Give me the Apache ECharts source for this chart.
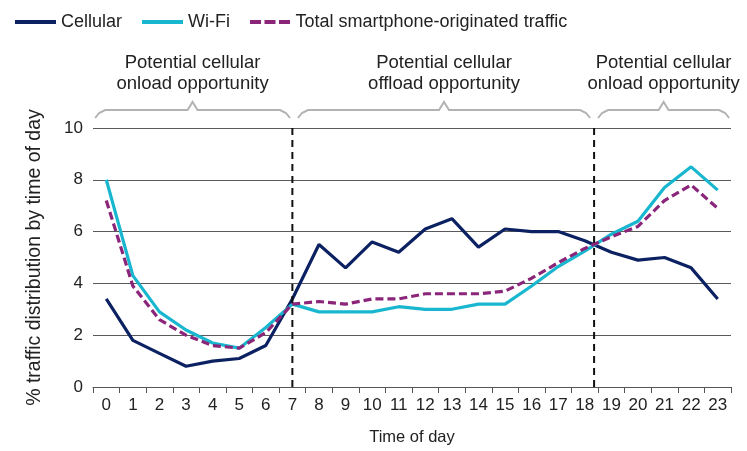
<!DOCTYPE html>
<html>
<head>
<meta charset="utf-8">
<script src="https://cdn.jsdelivr.net/npm/echarts@6/dist/echarts.min.js"></script>
<style>
  html, body { margin: 0; padding: 0; background: #fff; }
  #chart { width: 747px; height: 451px; }
</style>
</head>
<body>
<div id="chart"></div>
<script>
const hours = ['0','1','2','3','4','5','6','7','8','9','10','11','12','13','14','15','16','17','18','19','20','21','22','23']
const cellular = [3.4, 1.8, 1.3, 0.8, 1.0, 1.1, 1.6, 3.4, 5.5, 4.6, 5.6, 5.2, 6.1, 6.5, 5.4, 6.1, 6.0, 6.0, 5.65, 5.2, 4.9, 5.0, 4.6, 3.4]
const wifi = [8.0, 4.3, 2.9, 2.2, 1.7, 1.5, 2.3, 3.2, 2.9, 2.9, 2.9, 3.1, 3.0, 3.0, 3.2, 3.2, 3.9, 4.65, 5.25, 5.9, 6.4, 7.7, 8.5, 7.6]
const total = [7.2, 3.9, 2.6, 2.0, 1.6, 1.5, 2.1, 3.2, 3.3, 3.2, 3.4, 3.4, 3.6, 3.6, 3.6, 3.7, 4.2, 4.8, 5.35, 5.8, 6.2, 7.2, 7.8, 6.9]

// regions above the plot: [start, end] in hour units, and their captions
const regions = [[-0.42, 6.91], [7.21, 18.2], [18.5, 23.43]]
const regionText = [
    'Potential cellular\nonload opportunity',
    'Potential cellular\noffload opportunity',
    'Potential cellular\nonload opportunity'
]
const dividers = [7, 18.35]

const font = '"Liberation Sans", Arial, sans-serif'
const txt = '#222'

let chart = echarts.init(document.getElementById('chart'))

let lineSeries = (name, data, color, dashed) => ({
    name: name,
    type: 'line',
    data: data,
    symbol: 'none',
    color: color,
    lineStyle: { width: 3.2, color: color, type: dashed ? [8, 4] : 'solid' },
    z: dashed ? 3 : 2
})

// one legend per entry so each sits where it does in the original
let legendItem = (name, left, icon) => ({
    left: left,
    top: 8,
    itemWidth: 41,
    itemHeight: 4,
    icon: icon,
    textStyle: { fontSize: 18, color: txt, fontFamily: font, padding: [0, 0, 0, 0] },
    data: [name]
})

chart.setOption({
    animation: false,
    textStyle: { fontFamily: font },
    grid: { left: 93, right: 16, top: 128, bottom: 64 },
    legend: [
        legendItem('Cellular', 10, 'rect'),
        legendItem('Wi-Fi', 137, 'rect'),
        legendItem('Total smartphone-originated traffic', 245,
            'path://M0,0h11v4h-11z M14.5,0h11v4h-11z M29,0h11v4h-11z')
    ],
    xAxis: [{
        type: 'category',
        data: hours,
        boundaryGap: true,
        name: 'Time of day',
        nameLocation: 'middle',
        nameGap: 42,
        nameTextStyle: { fontSize: 16.5, color: txt, fontFamily: font },
        axisLine: { lineStyle: { color: '#555', width: 1 } },
        axisTick: { show: true, length: 6, lineStyle: { color: '#555' } },
        axisLabel: { fontSize: 17, color: txt, margin: 10, interval: 0 }
    }, {
        type: 'value',
        min: -0.5,
        max: 23.5,
        show: false
    }],
    yAxis: {
        type: 'value',
        min: 0,
        max: 10,
        interval: 2,
        name: '% traffic distribution by time of day',
        nameLocation: 'middle',
        nameGap: 48,
        nameTextStyle: { fontSize: 19.5, color: txt, fontFamily: font },
        axisLine: { show: false },
        axisTick: { show: false },
        axisLabel: { fontSize: 17, color: txt, margin: 10 },
        splitLine: { lineStyle: { color: '#5a5a5a', width: 1 } }
    },
    series: [
        lineSeries('Cellular', cellular, '#0b2162', false),
        lineSeries('Wi-Fi', wifi, '#19b7cf', false),
        lineSeries('Total smartphone-originated traffic', total, '#8b2579', true),
        {
            type: 'custom',
            xAxisIndex: 1,
            clip: false,
            silent: true,
            z: 5,
            data: dividers.map(d => [d]),
            renderItem: (params, api) => {
                let top = api.coord([api.value(0), 10])
                let bottom = api.coord([api.value(0), 0])
                return {
                    type: 'line',
                    shape: { x1: top[0], y1: top[1], x2: bottom[0], y2: bottom[1] },
                    style: { stroke: '#111', lineWidth: 2, lineDash: [7, 5] }
                }
            }
        },
        {
            type: 'custom',
            xAxisIndex: 1,
            clip: false,
            silent: true,
            data: regions.map((r, i) => [r[0], r[1], i]),
            renderItem: (params, api) => {
                let a = api.coord([api.value(0), 10])
                let b = api.coord([api.value(1), 10])
                let x0 = a[0], x1 = b[0], xm = (x0 + x1) / 2
                let yb = a[1] - 18
                return {
                    type: 'group',
                    children: [{
                        type: 'polyline',
                        shape: {
                            points: [[x0, yb + 8], [x0 + 4, yb + 3], [x0 + 10, yb], [xm - 5, yb], [xm, yb - 8],
                                [xm + 5, yb], [x1 - 10, yb], [x1 - 4, yb + 3], [x1, yb + 8]]
                        },
                        style: { stroke: '#b3b3b3', lineWidth: 2, fill: null }
                    }, {
                        type: 'text',
                        style: {
                            x: xm,
                            y: 73.5,
                            text: regionText[api.value(2)],
                            align: 'center',
                            verticalAlign: 'middle',
                            fontSize: 18.5,
                            lineHeight: 21,
                            fontFamily: font,
                            fill: txt
                        }
                    }]
                }
            }
        }
    ]
})
</script>
</body>
</html>
